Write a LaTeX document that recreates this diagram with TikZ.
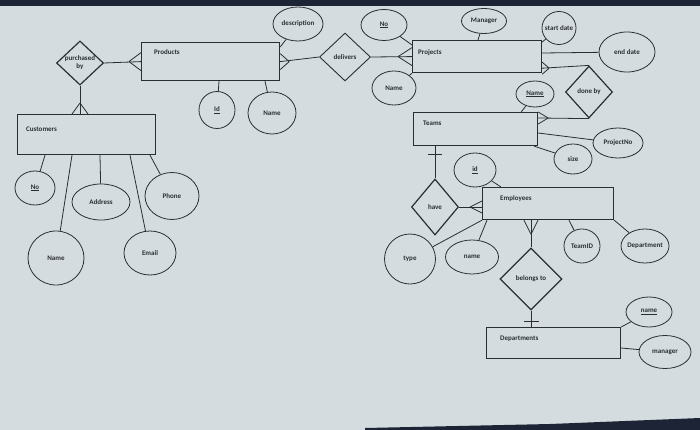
\documentclass[tikz,border=0pt]{standalone}
\usepackage{fontspec}
\setmainfont{Carlito}
\usepackage{xcolor}
\usepackage{tikz}
\usetikzlibrary{shapes.geometric, calc}
\definecolor{paper}{RGB}{213,220,223}
\definecolor{ink}{RGB}{42,46,52}
\definecolor{frame}{RGB}{28,36,54}
\newcommand\erfont{\fontsize{7}{8}\selectfont\bfseries}
\tikzset{
  entity/.style={rectangle, draw=ink, line width=1.2pt, anchor=north west, inner sep=0pt},
  ename/.style={anchor=west, inner sep=0pt, font=\erfont, text=ink},
  attr/.style={ellipse, draw=ink, line width=0.8pt, inner sep=0pt, font=\erfont, text=ink},
  rel/.style={diamond, aspect=1, draw=ink, line width=1.2pt, inner sep=0pt, align=center, font=\erfont, text=ink},
  link/.style={draw=ink, line width=0.8pt},
}
\newcommand\crowfoot[3]{\draw[link] ($(#1)+(#2)$) -- ($(#1)+(#3)$) ($(#1)+(#2)$) -- ($(#1)-(#3)$);}

\begin{document}
\begin{tikzpicture}[x=1pt, y=-1pt]
\useasboundingbox (0,0) rectangle (700,430);
\fill[paper] (0,0) rectangle (700,430);
\fill[frame] (0,0) rectangle (700,6);
\fill[frame] (365,430) -- (365,428) -- (550,424) -- (700,418) -- (700,430) -- cycle;

\node[entity, minimum width=138pt, minimum height=40pt, label={[ename, xshift=9pt, yshift=-15pt]north west:Customers}] (cust) at (17,114) {};
\node[entity, minimum width=138pt, minimum height=38pt, label={[ename, xshift=13pt, yshift=-10pt]north west:Products}] (prod) at (141,42) {};
\node[entity, minimum width=129pt, minimum height=32pt, label={[ename, xshift=6pt, yshift=-13pt]north west:Projects}] (proj) at (412,40) {};
\node[entity, minimum width=124pt, minimum height=33pt, label={[ename, xshift=10pt, yshift=-11pt]north west:Teams}] (teams) at (413,112) {};
\node[entity, minimum width=131pt, minimum height=32pt, label={[ename, xshift=18pt, yshift=-12pt]north west:Employees}] (emp) at (482,187) {};
\node[entity, minimum width=134pt, minimum height=31pt, label={[ename, xshift=14pt, yshift=-12pt]north west:Departments}] (dept) at (486,327) {};

\node[rel, minimum width=47pt, minimum height=43pt] (pur) at (80,63) {purchased\\by};
\node[rel, line width=0.9pt, minimum width=51pt, minimum height=48pt] (del) at (345,57) {delivers};
\node[rel, minimum width=47pt, minimum height=52pt] (done) at (589,92) {done by};
\node[rel, minimum width=47pt, minimum height=56pt] (have) at (435,207) {have};
\node[rel, minimum width=62pt, minimum height=62pt] (bel) at (531,279) {belongs to};

\node[attr, minimum width=40pt, minimum height=34pt] (cno) at (35,188) {\underline{No}};
\node[attr, minimum width=56pt, minimum height=54pt] (cname) at (56,258) {Name};
\node[attr, minimum width=58pt, minimum height=36pt] (caddr) at (101,202) {Address};
\node[attr, minimum width=52pt, minimum height=44pt] (cmail) at (150,253) {Email};
\node[attr, minimum width=54pt, minimum height=47pt] (cphone) at (172,196) {Phone};

\node[attr, minimum width=36pt, minimum height=37pt] (pid) at (217,110) {\underline{Id}};
\node[attr, minimum width=48pt, minimum height=42pt] (pname) at (272,113) {Name};
\node[attr, minimum width=50pt, minimum height=34pt] (pdesc) at (298,24) {\makebox[0pt]{description}};

\node[attr, minimum width=46pt, minimum height=31pt] (jno) at (384,25) {\underline{No}};
\node[attr, minimum width=44pt, minimum height=34pt] (jname) at (394,88) {Name};
\node[attr, minimum width=45pt, minimum height=25pt] (jman) at (484,21) {Manager};
\node[attr, minimum width=34pt, minimum height=33pt] (jstart) at (559,28) {\makebox[0pt]{start date}};
\node[attr, minimum width=56pt, minimum height=40pt] (jend) at (627,52) {end date};

\node[attr, minimum width=38pt, minimum height=26pt] (tname) at (535,94) {\underline{Name}};
\node[attr, minimum width=50pt, minimum height=30pt] (tproj) at (618,143) {ProjectNo};
\node[attr, minimum width=38pt, minimum height=30pt] (tsize) at (573,159) {size};

\node[attr, minimum width=42pt, minimum height=34pt] (eid) at (475,170) {\underline{id}};
\node[attr, minimum width=51pt, minimum height=50pt] (etype) at (410,259) {type\hspace{12pt}};
\node[attr, minimum width=53pt, minimum height=34pt] (ename) at (472,257) {name};
\node[attr, minimum width=36pt, minimum height=34pt] (eteam) at (582,246) {TeamID};
\node[attr, minimum width=48pt, minimum height=34pt] (edept) at (645,246) {\makebox[0pt]{Department}};

\node[attr, minimum width=46pt, minimum height=30pt] (dname) at (649,312) {\underline{name}};
\node[attr, minimum width=52pt, minimum height=33pt] (dman) at (665,352) {manager};

\coordinate (pc) at (pur.south |- cust.north);
\coordinate (pd) at ($(proj.south east)+(0,-5)$);
\coordinate (td) at ($(teams.north east)+(0,6)$);
\coordinate (th) at (have.north |- teams.south);
\coordinate (he) at (have.east -| emp.west);
\coordinate (eb) at (bel.north |- emp.south);
\coordinate (bd) at (bel.south |- dept.north);

\draw[link] (pur.south) -- (pc); \crowfoot{pc}{0,-11}{8,0}
\draw[link] (pur.east) -- (prod.west); \crowfoot{prod.west}{-12,0}{0,9}
\draw[link] (prod.east) -- (del.west); \crowfoot{prod.east}{9,0}{0,8}
\draw[link] (del.east) -- (proj.west); \crowfoot{proj.west}{-14,0}{0,9}
\draw[link] (pd) -- (done.north); \crowfoot{pd}{7,0}{0,6}
\draw[link] (done.south) -- (td); \crowfoot{td}{10,0}{0,6}
\draw[link] (th) -- (have.north); \draw[link] ($(th)+(-7,8)$) -- ($(th)+(7,8)$);
\draw[link] (have.east) -- (he); \crowfoot{he}{-12,0}{0,6}
\draw[link] (eb) -- (bel.north); \crowfoot{eb}{0,14}{7,0}
\draw[link] (bel.south) -- (bd); \draw[link] ($(bd)+(-7,-6)$) -- ($(bd)+(8,-6)$);

\draw[link] ($(cust.south west)+(28,0)$) -- (cno);
\draw[link] ($(cust.south west)+(55,0)$) -- (cname);
\draw[link] ($(cust.south west)+(83,0)$) -- (caddr);
\draw[link] ($(cust.south west)+(113,0)$) -- (cmail);
\draw[link] ($(cust.south west)+(133,0)$) -- (cphone);
\draw[link] ($(prod.south west)+(78,0)$) -- (pid);
\draw[link] ($(prod.south west)+(124,0)$) -- (pname);
\draw[link] ($(prod.north east)+(0,5)$) -- (pdesc);
\draw[link] ($(proj.north west)+(0,5)$) -- (jno);
\draw[link] (proj.south west) -- (jname);
\draw[link] ($(proj.north west)+(66,0)$) -- (jman);
\draw[link] ($(proj.north east)+(0,2)$) -- (jstart);
\draw[link] ($(proj.north east)+(0,13)$) -- (jend);
\draw[link] ($(teams.north east)+(-17,0)$) -- (tname);
\draw[link] ($(teams.north east)+(0,21)$) -- (tproj);
\draw[link] ($(teams.south east)+(-4,0)$) -- (tsize);
\draw[link] ($(emp.north west)+(19,0)$) -- (eid);
\draw[link] (emp.south west) -- (etype);
\draw[link] ($(emp.south west)+(5,0)$) -- (ename);
\draw[link] ($(emp.south west)+(87,0)$) -- (eteam);
\draw[link] (emp.south east) -- (edept);
\draw[link] (dept.north east) -- (dname);
\draw[link] ($(dept.north east)+(0,21)$) -- (dman);
\end{tikzpicture}
\end{document}
